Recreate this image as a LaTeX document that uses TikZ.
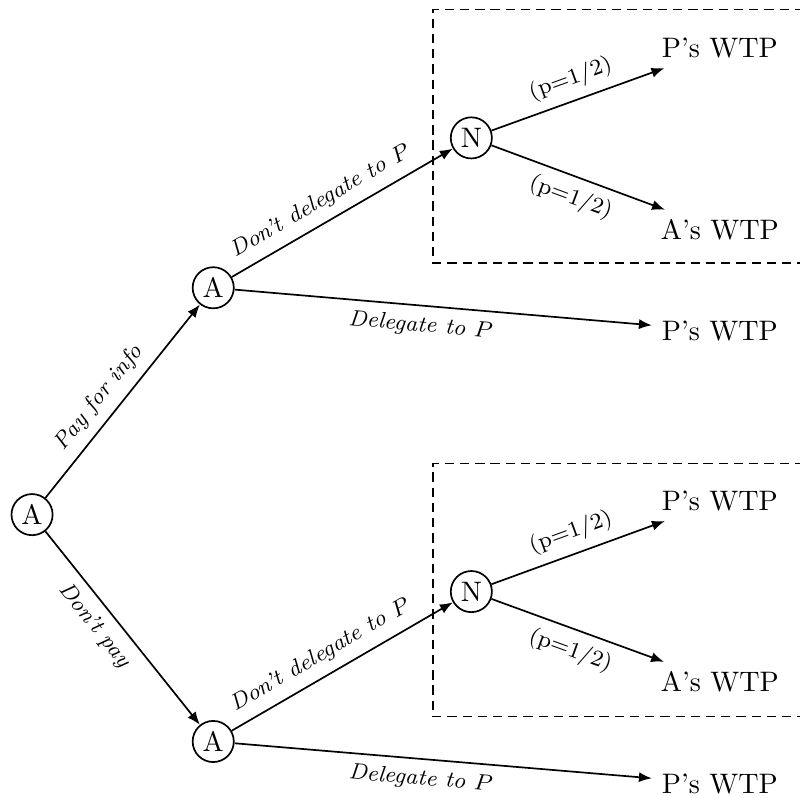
\documentclass[tikz,border=0pt]{standalone}
\usepackage{tikz}
\usetikzlibrary{positioning,arrows.meta}
\tikzset{
  player/.style ={circle,draw,line width=0.6pt,minimum size=14.6pt,
                  inner sep=1pt},
  payoff/.style ={inner sep=3.33pt},
  move/.style   ={-{Latex[length=4.6pt,width=3.6pt]},line width=0.6pt},
  mlabel/.style ={font=\footnotesize\itshape,sloped},
  plabel/.style ={font=\footnotesize,sloped},
  nature box/.style={draw,line width=0.5pt,dashed,
                     dash pattern=on 3.3pt off 2.1pt},
}

\begin{document}
\begin{tikzpicture}[every node/.style={font=\normalsize}]
        \useasboundingbox (-0.40,-3.53) rectangle (9.58,6.42);
        % chance moves
        \draw[nature box] (10.2,6.30) -- (5.0,6.30) -- (5.0,3.14) -- (10.2,3.14);
        \draw[nature box] (10.2,0.64) -- (5.0,0.64) -- (5.0,-2.52) -- (10.2,-2.52);
        % players
        \node[player] (a0) at (0,0)         {A};
        \node[player] (a1) at (2.26, 2.83)  {A};
        \node[player] (a2) at (2.26,-2.83)  {A};
        \node[player] (n1) at (5.48, 4.70)  {N};
        \node[player] (n2) at (5.48,-0.96)  {N};
        % outcomes
        \node[payoff] (w1) at (8.58, 5.82)  {P's WTP};
        \node[payoff] (w2) at (8.58, 3.55)  {A's WTP};
        \node[payoff] (w3) at (8.58, 2.29)  {P's WTP};
        \node[payoff] (w4) at (8.58, 0.17)  {P's WTP};
        \node[payoff] (w5) at (8.58,-2.09)  {A's WTP};
        \node[payoff] (w6) at (8.58,-3.36)  {P's WTP};
        \draw[move] (a0) -- node[mlabel,above,pos=0.45] {Pay for info} (a1);
        \draw[move] (a0) -- node[mlabel,below,pos=0.42] {Don't pay} (a2);
        \foreach \a/\n/\p/\q/\d in {a1/n1/w1/w2/w3,a2/n2/w4/w5/w6}{
          \draw[move] (\a) -- node[mlabel,above,pos=0.45] {Don't delegate to $P$} (\n);
          \draw[move] (\a) -- node[mlabel,below,pos=0.45] {Delegate to $P$} (\d);
          \draw[move] (\n) -- node[plabel,above] {(p=1/2)} (\p);
          \draw[move] (\n) -- node[plabel,below] {(p=1/2)} (\q);
        }
      \end{tikzpicture}
\end{document}
